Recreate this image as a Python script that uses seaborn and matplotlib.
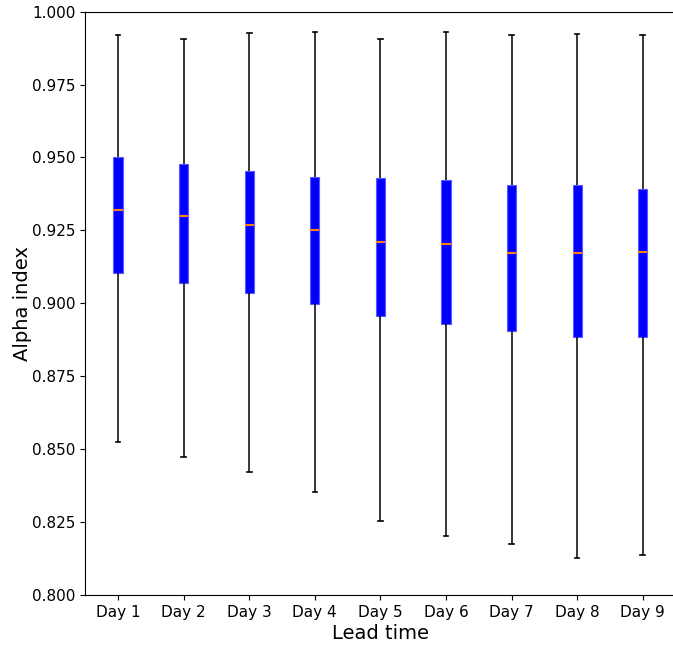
import pandas as pd
import matplotlib
matplotlib.use("Agg")
import matplotlib.pyplot as plt
import seaborn as sns

# Box summary per lead time
days = ["Day 1", "Day 2", "Day 3", "Day 4", "Day 5", "Day 6", "Day 7", "Day 8", "Day 9"]
mins = [0.8525, 0.8473, 0.8422, 0.8353, 0.8254, 0.8202, 0.8175, 0.8127, 0.8137]
q1s = [0.9105, 0.9070, 0.9036, 0.8998, 0.8957, 0.8930, 0.8906, 0.8885, 0.8885]
medians = [0.9320, 0.9300, 0.9270, 0.9250, 0.9210, 0.9204, 0.9173, 0.9173, 0.9177]
q3s = [0.9500, 0.9479, 0.9455, 0.9434, 0.9430, 0.9424, 0.9406, 0.9406, 0.9393]
maxs = [0.9921, 0.9907, 0.9928, 0.9930, 0.9905, 0.9930, 0.9920, 0.9922, 0.9920]

# five points per day -> quartiles / median / min / max come out exactly
rows = []
for i, d in enumerate(days):
    for v in [mins[i], q1s[i], medians[i], q3s[i], maxs[i]]:
        rows.append({"Lead time": d, "Alpha index": v})
df = pd.DataFrame(rows)

fig = plt.figure(figsize=(6.73, 6.46), dpi=100)
# right spine falls just outside the picture, as in the reference
ax = fig.add_axes([0.1267, 0.079, 0.877, 0.903])

sns.boxplot(data=df, x="Lead time", y="Alpha index", order=days,
            whis=(0, 100), width=0.14, ax=ax,
            boxprops=dict(facecolor="blue", edgecolor="#5a5aff", linewidth=0.8),
            medianprops=dict(color="#ff7f0e", linewidth=1.5),
            whiskerprops=dict(color="black", linewidth=1.1),
            capprops=dict(color="black", linewidth=1.2),
            showfliers=False)

ax.set_ylim(0.8, 1.0)
ax.set_yticks([0.8 + 0.025 * k for k in range(9)])
ax.yaxis.set_major_formatter(matplotlib.ticker.FormatStrFormatter("%.3f"))
ax.tick_params(labelsize=11)
ax.set_xlabel("Lead time", fontsize=14, labelpad=3)
ax.set_ylabel("Alpha index", fontsize=14, labelpad=0)

fig.savefig("out.png", dpi=100)
